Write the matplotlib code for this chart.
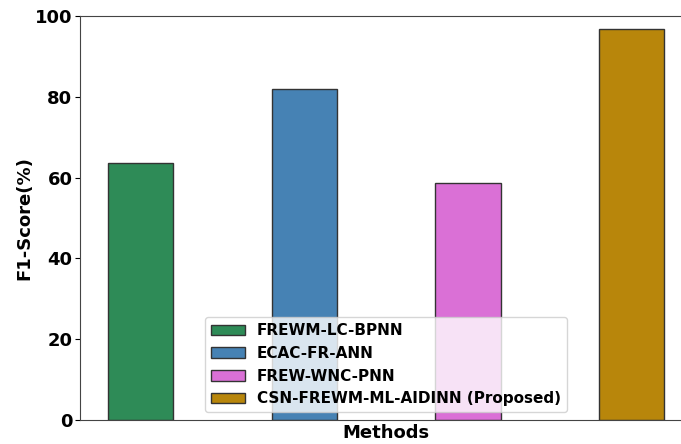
import numpy as np
import matplotlib.pyplot as plt

methods = ["FREWM-LC-BPNN", "ECAC-FR-ANN", "FREW-WNC-PNN",
           "CSN-FREWM-ML-AIDINN (Proposed)"]
f1_scores = [63.6, 81.9, 58.7, 96.8]
colors = ["seagreen", "steelblue", "orchid", "darkgoldenrod"]

fig = plt.figure(figsize=(6.81, 4.44), dpi=100)
# axes run a little past the right edge of the figure
ax = fig.add_axes([0.1175, 0.054, 0.899, 0.91])

x = np.arange(len(methods))
for i in range(len(methods)):
    ax.bar(x[i], f1_scores[i], width=0.4, color=colors[i],
           edgecolor="#333333", linewidth=1, label=methods[i])

ax.set_ylim(0, 100)
ax.set_xticks([])
ax.set_yticks([0, 20, 40, 60, 80, 100])
ax.tick_params(axis="y", labelsize=13, pad=2)
for lbl in ax.get_yticklabels():
    lbl.set_fontweight("bold")
ax.set_xlabel("Methods", fontsize=13, fontweight="bold", labelpad=3)
ax.set_ylabel("F1-Score(%)", fontsize=13, fontweight="bold", labelpad=1)
for s in ax.spines.values():
    s.set_color("#444444")

ax.legend(loc="lower center", prop={"weight": "bold", "size": 11},
          handlelength=2.2, borderaxespad=0.5)

fig.savefig("out.png", dpi=100)
